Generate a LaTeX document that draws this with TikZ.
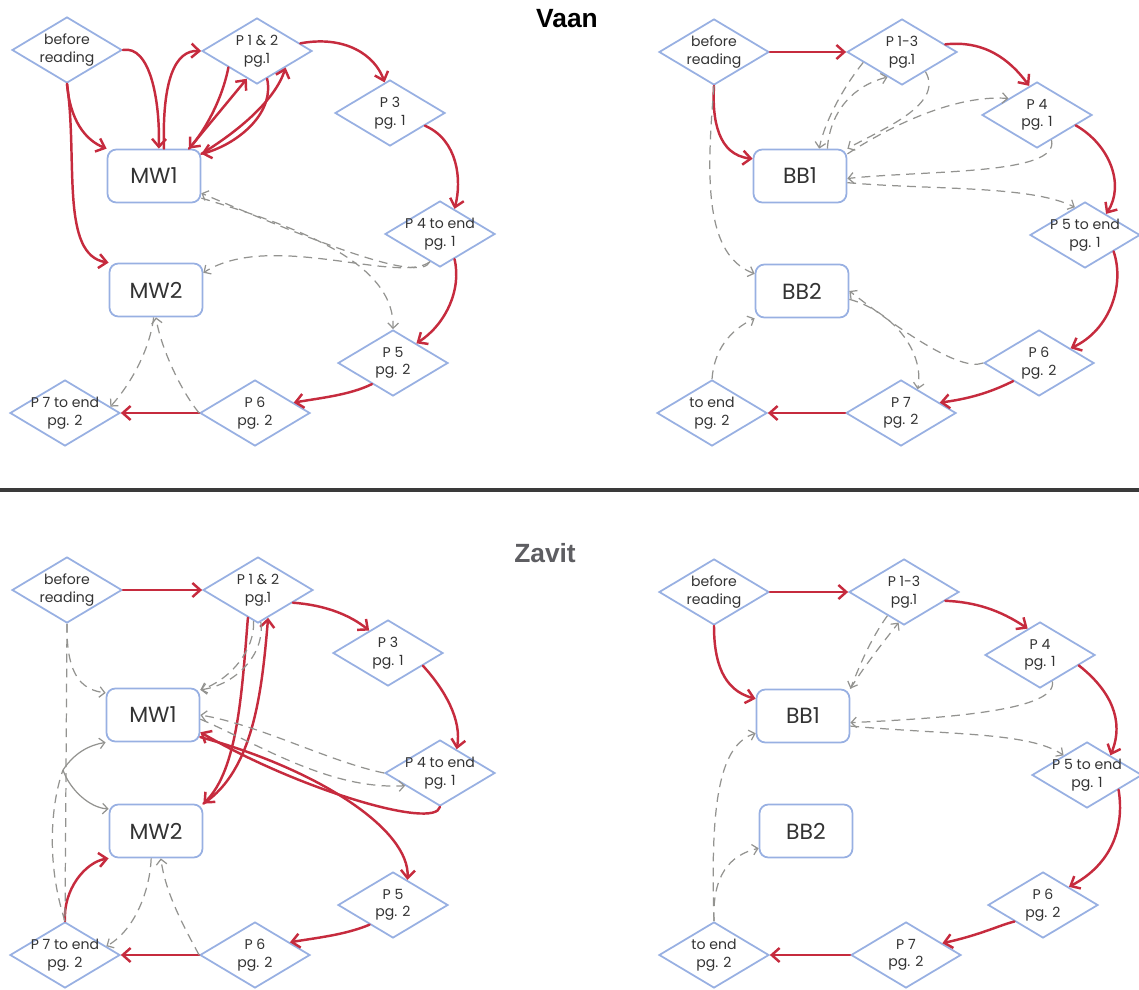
\documentclass[tikz,border=0pt]{standalone}
\usepackage{fontspec}
\usepackage{tikz}
\usetikzlibrary{shapes.geometric,arrows.meta}
\newfontfamily\handfont{Poppins}
\newfontfamily\headfont{Liberation Sans}
\definecolor{boxblue}{HTML}{98B0E2}
\definecolor{penred}{HTML}{C62B3E}
\definecolor{pencilgray}{HTML}{939390}
\definecolor{inkgray}{HTML}{333333}
\definecolor{rulegray}{HTML}{3A3A3A}
\definecolor{zavitgray}{HTML}{5E5E62}

\begin{document}
\begin{tikzpicture}[x=0.02cm,y=-0.02cm,
  pg/.style={diamond, draw=boxblue, line width=1pt, minimum width=2.2cm, minimum height=1.32cm, inner sep=0pt},
  pgtext/.style={font=\handfont\fontsize{8}{10}\selectfont, text=inkgray, align=center},
  mw/.style={rectangle, rounded corners=5pt, draw=boxblue, line width=1pt, minimum width=1.86cm, minimum height=1.06cm, font=\handfont\fontsize{12.5}{14}\selectfont, text=inkgray},
  redarr/.style={draw=penred, line width=1.4pt, line cap=round, -{Straight Barb[length=4.5pt,width=8pt]}},
  grayarr/.style={draw=pencilgray, line width=0.7pt, dash pattern=on 5pt off 3.5pt, -{Straight Barb[length=3pt,width=6pt]}},
  grayline/.style={draw=pencilgray, line width=0.7pt, dash pattern=on 5pt off 3.5pt}]
\useasboundingbox (0,0) rectangle (1139,990);

\node[font=\headfont\bfseries\fontsize{15}{18}\selectfont] (vaan) at (567,19) {Vaan};
\node[font=\headfont\bfseries\fontsize{15}{18}\selectfont, text=zavitgray] (zavit) at (545,553) {Zavit};
\draw[line width=1.8pt, draw=rulegray] (0,490) -- (1139,490);

\node[pg, label={[pgtext]center:{before\\reading}}] (vlbr) at (67,50) {};
\node[pg, label={[pgtext]center:{P 1 \& 2\\pg.1}}] (vlp12) at (257,51) {};
\node[pg, label={[pgtext]center:{P 3\\pg. 1}}] (vlp3) at (390,113) {};
\node[mw] (vlmw1) at (154,176) {MW1};
\node[pg, label={[pgtext]center:{P 4 to end\\pg. 1}}] (vlp4) at (440,234) {};
\node[mw] (vlmw2) at (156,290) {MW2};
\node[pg, label={[pgtext]center:{P 5\\pg. 2}}] (vlp5) at (393,363) {};
\node[pg, label={[pgtext]center:{P 6\\pg. 2}}] (vlp6) at (255,413) {};
\node[pg, label={[pgtext]center:{P 7 to end\\pg. 2}}] (vlp7) at (65,413) {};

\draw[redarr] (vlbr.east) .. controls (150,45) and (160,100) .. (vlmw1.80);
\draw[redarr] (vlbr.south) .. controls (70,120) and (85,140) .. (vlmw1.north west);
\draw[redarr] (vlbr.south) .. controls (78,160) and (60,255) .. (vlmw2.north west);
\draw[redarr] (vlmw1.70) .. controls (162,80) and (175,50) .. (vlp12.west);
\draw[redarr] (vlp12.210) .. controls (222,100) and (205,130) .. (vlmw1.38);
\draw[redarr] (vlmw1.38) -- (vlp12.250);
\draw[redarr] (vlp12.290) .. controls (275,115) and (235,145) .. (vlmw1.25);
\draw[redarr] (vlmw1.25) .. controls (240,130) and (275,100) .. (vlp12.330);
\draw[redarr] (vlp12.10) .. controls (345,35) and (375,55) .. (vlp3.100);
\draw[redarr] (vlp3.-20) .. controls (458,140) and (462,180) .. (vlp4.60);
\draw[redarr] (vlp4.-60) .. controls (462,290) and (445,325) .. (vlp5.40);
\draw[redarr] (vlp5.-135) .. controls (350,395) and (320,398) .. (vlp6.15);
\draw[redarr] (vlp6.west) -- (vlp7.east);

\draw[grayarr] (vlp4.250) .. controls (420,285) and (300,235) .. (vlmw1.-20);
\draw[grayarr] (vlmw1.-25) .. controls (290,225) and (395,260) .. (vlp5.north);
\draw[grayarr] (vlp4.250) .. controls (400,285) and (270,230) .. (vlmw2.20);
\draw[grayarr] (vlp6.west) .. controls (180,390) and (160,345) .. (vlmw2.south);
\draw[grayarr] (vlmw2.-95) .. controls (150,350) and (130,385) .. (vlp7.8);

\node[pg, label={[pgtext]center:{before\\reading}}] (vrbr) at (714,52) {};
\node[pg, label={[pgtext]center:{P 1-3\\pg.1}}] (vrp13) at (902,52) {};
\node[pg, label={[pgtext]center:{P 4\\pg. 1}}] (vrp4) at (1037,115) {};
\node[mw] (vrbb1) at (800,176) {BB1};
\node[pg, label={[pgtext]center:{P 5 to end\\pg. 1}}] (vrp5) at (1085,235) {};
\node[mw] (vrbb2) at (802,291) {BB2};
\node[pg, label={[pgtext]center:{P 6\\pg. 2}}] (vrp6) at (1039,363) {};
\node[pg, label={[pgtext]center:{P 7\\pg. 2}}] (vrp7) at (901,413) {};
\node[pg, label={[pgtext]center:{to end\\pg. 2}}] (vrend) at (712,413) {};

\draw[redarr] (vrbr.east) -- (vrp13.west);
\draw[redarr] (vrp13.10) .. controls (985,40) and (1010,60) .. (vrp4.105);
\draw[redarr] (vrp4.-15) .. controls (1110,145) and (1125,185) .. (vrp5.45);
\draw[redarr] (vrp5.-30) .. controls (1125,285) and (1110,330) .. (vrp6.25);
\draw[redarr] (vrp6.-145) .. controls (995,390) and (975,398) .. (vrp7.15);
\draw[redarr] (vrp7.west) -- (vrend.east);
\draw[redarr] (vrbr.south) .. controls (712,120) and (718,155) .. (vrbb1.160);

\draw[grayarr] (vrbr.south) .. controls (706,180) and (705,255) .. (vrbb2.160);
\draw[grayarr] (vrp13.195) .. controls (845,85) and (825,120) .. (vrbb1.55);
\draw[grayarr] (vrbb1.45) .. controls (830,110) and (855,85) .. (vrp13.240);
\draw[grayarr] (vrp13.-40) .. controls (945,105) and (880,130) .. (vrbb1.30);
\draw[grayarr] (vrbb1.25) .. controls (900,120) and (960,95) .. (vrp4.150);
\draw[grayarr] (vrp4.-60) .. controls (1060,175) and (930,170) .. (vrbb1.-3);
\draw[grayarr] (vrbb1.-8) .. controls (930,190) and (1030,185) .. (vrp5.110);
\draw[grayarr] (vrp6.west) .. controls (960,372) and (900,330) .. (vrbb2.east);
\draw[grayarr] (vrbb2.-10) .. controls (890,310) and (925,350) .. (vrp7.55);
\draw[grayarr] (vrend.north) .. controls (714,350) and (730,330) .. (vrbb2.south west);

\node[pg, label={[pgtext]center:{before\\reading}}] (zlbr) at (67,590) {};
\node[pg, label={[pgtext]center:{P 1 \& 2\\pg.1}}] (zlp12) at (258,590) {};
\node[pg, label={[pgtext]center:{P 3\\pg. 1}}] (zlp3) at (388,653) {};
\node[mw] (zlmw1) at (153,715) {MW1};
\node[pg, label={[pgtext]center:{P 4 to end\\pg. 1}}] (zlp4) at (440,773) {};
\node[mw] (zlmw2) at (156,831) {MW2};
\node[pg, label={[pgtext]center:{P 5\\pg. 2}}] (zlp5) at (393,905) {};
\node[pg, label={[pgtext]center:{P 6\\pg. 2}}] (zlp6) at (255,955) {};
\node[pg, label={[pgtext]center:{P 7 to end\\pg. 2}}] (zlp7) at (65,955) {};
\coordinate (zlfork) at (63,770);

\draw[redarr] (zlbr.east) -- (zlp12.west);
\draw[redarr] (zlp12.-20) .. controls (325,605) and (350,615) .. (zlp3.130);
\draw[redarr] (zlp3.-20) .. controls (445,690) and (462,720) .. (zlp4.55);
\draw[redarr] (zlp4.south) .. controls (435,830) and (300,790) .. (zlmw1.-20);
\draw[redarr] (zlmw1.-25) .. controls (320,770) and (410,830) .. (zlp5.60);
\draw[redarr] (zlp12.250) .. controls (242,690) and (238,770) .. (zlmw2.north east);
\draw[redarr] (zlmw2.north east) .. controls (254,770) and (262,690) .. (zlp12.290);
\draw[redarr] (zlp5.-140) .. controls (345,935) and (315,938) .. (zlp6.20);
\draw[redarr] (zlp6.west) -- (zlp7.east);
\draw[redarr] (zlp7.north) .. controls (63,890) and (85,862) .. (zlmw2.south west);

\draw[grayarr] (zlbr.south) .. controls (66,680) and (85,690) .. (zlmw1.155);
\draw[grayline] (zlbr.south) -- (zlp7.north);
\draw[grayline] (zlp7.north) .. controls (45,860) and (52,800) .. (zlfork);
\draw[grayarr, solid] (zlfork) .. controls (75,752) and (90,745) .. (zlmw1.south west);
\draw[grayarr, solid] (zlfork) .. controls (70,790) and (90,808) .. (zlmw2.155);
\draw[grayarr] (zlp12.262) .. controls (255,650) and (230,680) .. (zlmw1.28);
\draw[grayarr] (zlp12.275) .. controls (265,655) and (235,685) .. (zlmw1.28);
\draw[grayarr] (zlp4.west) .. controls (330,762) and (260,725) .. (zlmw1.east);
\draw[grayarr] (zlmw1.-5) .. controls (260,745) and (330,790) .. (zlp4.200);
\draw[grayarr] (zlp6.west) .. controls (180,920) and (165,890) .. (zlmw2.-80);
\draw[grayarr] (zlmw2.-100) .. controls (150,890) and (135,930) .. (zlp7.12);

\node[pg, label={[pgtext]center:{before\\reading}}] (zrbr) at (714,592) {};
\node[pg, label={[pgtext]center:{P 1-3\\pg.1}}] (zrp13) at (904,592) {};
\node[pg, label={[pgtext]center:{P 4\\pg. 1}}] (zrp4) at (1040,655) {};
\node[mw] (zrbb1) at (803,716) {BB1};
\node[pg, label={[pgtext]center:{P 5 to end\\pg. 1}}] (zrp5) at (1087,775) {};
\node[mw] (zrbb2) at (806,831) {BB2};
\node[pg, label={[pgtext]center:{P 6\\pg. 2}}] (zrp6) at (1043,905) {};
\node[pg, label={[pgtext]center:{P 7\\pg. 2}}] (zrp7) at (906,955) {};
\node[pg, label={[pgtext]center:{to end\\pg. 2}}] (zrend) at (714,955) {};

\draw[redarr] (zrbr.east) -- (zrp13.west);
\draw[redarr] (zrp13.-12) .. controls (975,602) and (1000,610) .. (zrp4.115);
\draw[redarr] (zrp4.-15) .. controls (1110,690) and (1125,720) .. (zrp5.40);
\draw[redarr] (zrp5.-25) .. controls (1125,830) and (1110,865) .. (zrp6.35);
\draw[redarr] (zrp6.-150) .. controls (1000,925) and (980,935) .. (zrp7.18);
\draw[redarr] (zrp7.west) -- (zrend.east);
\draw[redarr] (zrbr.south) .. controls (714,660) and (722,690) .. (zrbb1.160);

\draw[grayarr] (zrp13.235) .. controls (870,640) and (860,665) .. (zrbb1.north east);
\draw[grayarr] (zrbb1.north east) .. controls (865,665) and (885,640) .. (zrp13.260);
\draw[grayarr] (zrp4.-65) .. controls (1058,710) and (950,718) .. (zrbb1.-8);
\draw[grayarr] (zrbb1.-12) .. controls (950,735) and (1030,732) .. (zrp5.140);
\draw[grayarr] (zrend.north) .. controls (710,800) and (720,745) .. (zrbb1.200);
\draw[grayarr] (zrend.north) .. controls (712,875) and (730,855) .. (zrbb2.200);
\end{tikzpicture}
\end{document}
